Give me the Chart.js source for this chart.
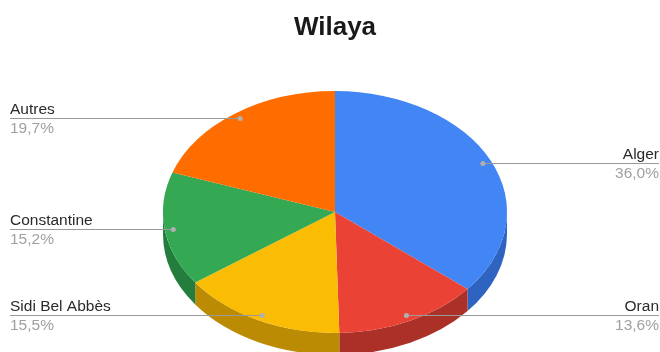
<!DOCTYPE html>
<html>
<head>
<meta charset="utf-8">
<script src="https://cdn.jsdelivr.net/npm/chart.js@4/dist/chart.umd.min.js"></script>
<style>
  html, body { margin: 0; padding: 0; background: #fff; }
  #wrap { width: 660px; height: 352px; }
</style>
</head>
<body>
<div id="wrap"><canvas id="pieChart"></canvas></div>
<script>
// data
var wilayas = ['Alger', 'Oran', 'Sidi Bel Abbès', 'Constantine', 'Autres'];
var shares = [36.0, 13.6, 15.5, 15.2, 19.7];
var topColors = ['#4285f4', '#ea4335', '#fbbc04', '#34a853', '#ff6d01'];
var sideColors = ['#2f63c2', '#ab3128', '#bb8c03', '#237e3d', '#c25200'];

var TILT = 0.703;   // vertical squash of the pie
var DEPTH = 22;     // thickness of the 3d side, screen px
var FONT = '"Liberation Sans", Arial, sans-serif';

// squash the pie and draw the visible front side before the slices
var pie3d = {
    id: 'pie3d',
    beforeDatasetsDraw: function(chart) {
        var ctx = chart.ctx;
        var arcs = chart.getDatasetMeta(0).data;
        var cx = arcs[0].x, cy = arcs[0].y;
        ctx.save();
        ctx.translate(cx, cy);
        ctx.scale(1, TILT);
        ctx.translate(-cx, -cy);
        var d = DEPTH / TILT;
        arcs.forEach(function(arc, i) {
            var R = arc.outerRadius;
            var a = Math.max(arc.startAngle, 0);
            var b = Math.min(arc.endAngle, Math.PI);
            if (a >= b) return;
            ctx.beginPath();
            ctx.arc(cx, cy, R, a, b);
            ctx.lineTo(cx + R * Math.cos(b), cy + d + R * Math.sin(b));
            ctx.arc(cx, cy + d, R, b, a, true);
            ctx.closePath();
            ctx.fillStyle = sideColors[i];
            ctx.fill();
        });
    },
    afterDatasetsDraw: function(chart) {
        var ctx = chart.ctx;
        ctx.restore();
        var arcs = chart.getDatasetMeta(0).data;
        var W = chart.width;
        arcs.forEach(function(arc, i) {
            var mid = (arc.startAngle + arc.endAngle) / 2;
            var R = arc.outerRadius * 0.95;
            var px = arc.x + Math.cos(mid) * R;
            var py = arc.y + Math.sin(mid) * R * TILT;
            var right = Math.cos(mid) >= 0;
            var edge = right ? W - 1 : 10;

            ctx.strokeStyle = '#9a9a9a';
            ctx.lineWidth = 1;
            ctx.beginPath();
            ctx.moveTo(edge, Math.round(py) + 0.5);
            ctx.lineTo(px, Math.round(py) + 0.5);
            ctx.stroke();

            ctx.fillStyle = '#b0b0b0';
            ctx.beginPath();
            ctx.arc(px, Math.round(py) + 0.5, 2.5, 0, Math.PI * 2);
            ctx.fill();

            ctx.font = '15.5px ' + FONT;
            ctx.textAlign = right ? 'right' : 'left';
            ctx.textBaseline = 'alphabetic';
            ctx.fillStyle = '#2a2a2a';
            ctx.fillText(wilayas[i], edge, Math.round(py) - 4);
            ctx.fillStyle = '#a0a0a0';
            ctx.fillText(shares[i].toFixed(1).replace('.', ',') + '%', edge, Math.round(py) + 15);
        });
    }
};

var ctx = document.getElementById('pieChart').getContext('2d');
var pieChart = new Chart(ctx, {
    type: 'pie',
    data: {
        labels: wilayas,
        datasets: [{
            data: shares,
            backgroundColor: topColors,
            borderWidth: 0,
            radius: 172
        }]
    },
    options: {
        responsive: true,
        maintainAspectRatio: false,
        animation: false,
        layout: { padding: { left: 10, right: 0, top: 0, bottom: 0 } },
        plugins: {
            legend: { display: false },
            tooltip: { enabled: false },
            title: {
                display: true,
                text: 'Wilaya',
                color: '#1a1a1a',
                font: { size: 26, weight: 'bold', family: FONT },
                padding: { top: 12, bottom: 28.8 }
            }
        }
    },
    plugins: [pie3d]
});
</script>
</body>
</html>
